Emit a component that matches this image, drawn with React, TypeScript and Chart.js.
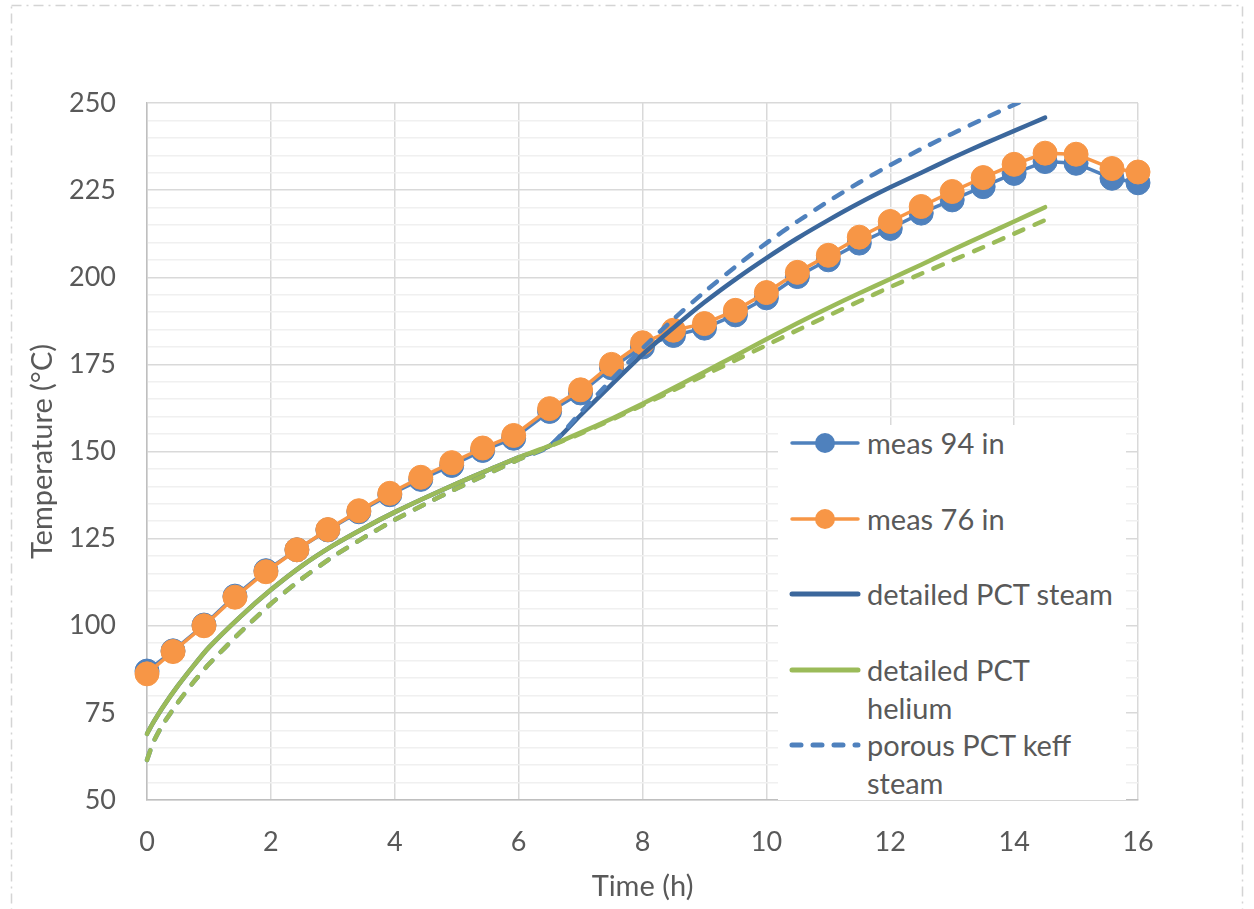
import { useEffect, useRef } from "react";
import { Chart, registerables } from "chart.js";

Chart.register(...registerables);

// Measured thermocouple times (h) and temperatures (°C)
const MEAS_TIME = [0, 0.42, 0.92, 1.42, 1.92, 2.42, 2.92, 3.42, 3.92, 4.42, 4.92, 5.42, 5.92, 6.5, 7, 7.5, 8, 8.5, 9, 9.5, 10, 10.5, 11, 11.5, 12, 12.5, 13, 13.5, 14, 14.5, 15, 15.58, 16];
const MEAS_94 = [87.0, 92.8, 100.2, 108.5, 115.8, 121.8, 127.5, 132.7, 137.6, 142.0, 146.0, 150.3, 153.8, 161.5, 166.8, 174.0, 180.0, 183.3, 185.4, 189.2, 194.1, 200.2, 205.0, 209.8, 214.0, 218.4, 222.2, 226.0, 229.8, 233.2, 232.7, 228.4, 227.1];
const MEAS_76 = [86.2, 92.6, 100.0, 108.2, 115.5, 121.8, 127.6, 133.0, 138.0, 142.6, 146.8, 151.0, 154.6, 162.3, 167.7, 175.0, 181.2, 184.8, 186.7, 190.5, 195.6, 201.4, 206.3, 211.5, 216.0, 220.3, 224.6, 228.6, 232.4, 235.6, 235.3, 231.2, 230.2];

// Model output times (h) and predicted temperatures (°C)
const MODEL_TIME = [0, 0.1, 0.25, 0.5, 0.75, 1, 1.5, 2, 2.5, 3, 3.5, 4, 4.5, 5, 5.5, 6, 6.5, 7, 7.5, 8, 8.5, 9, 9.5, 10, 10.5, 11, 11.5, 12, 12.5, 13, 13.5, 14, 14.5];
const DETAILED_STEAM = [69.0, 72.2, 76.5, 82.8, 88.5, 93.8, 102.5, 110.3, 117.2, 123.0, 128.0, 132.6, 136.8, 140.8, 144.6, 148.3, 151.6, 160.4, 169.2, 177.8, 185.5, 192.8, 199.4, 205.5, 211.2, 216.4, 221.3, 225.8, 230.0, 234.2, 238.2, 242.0, 245.8];
const DETAILED_HELIUM = [69.0, 72.2, 76.5, 82.8, 88.5, 93.8, 102.5, 110.3, 117.2, 123.0, 128.0, 132.6, 136.8, 140.8, 144.6, 148.3, 151.6, 155.4, 159.4, 163.7, 168.2, 172.8, 177.5, 182.2, 186.8, 191.2, 195.4, 199.5, 203.6, 207.8, 211.9, 216.0, 220.1];
const POROUS_STEAM = [61.5, 66.5, 71.5, 78.0, 83.8, 89.0, 98.0, 106.3, 113.5, 119.8, 125.3, 130.4, 135.0, 139.4, 143.6, 147.7, 151.5, 161.2, 170.6, 179.6, 188.0, 195.8, 203.0, 209.8, 216.0, 221.8, 227.2, 232.2, 236.8, 241.2, 245.4, 249.5, 253.4];
const POROUS_HELIUM = [61.5, 66.5, 71.5, 78.0, 83.8, 89.0, 98.0, 106.3, 113.5, 119.8, 125.3, 130.4, 135.0, 139.4, 143.6, 147.7, 151.5, 155.1, 159.1, 163.3, 167.6, 171.9, 176.2, 180.5, 184.8, 189.0, 193.1, 197.2, 201.0, 204.8, 208.6, 212.5, 216.4];

// Axis ranges and labels
const X_MIN = 0;
const X_MAX = 16;
const X_STEP = 2;
const Y_MIN = 50;
const Y_MAX = 250;
const Y_MINOR_STEP = 5;
const Y_LABEL_STEP = 25;
const X_TITLE = "Time (h)";
const Y_TITLE = "Temperature (°C)";

const FONT_FAMILY = "Lato, 'Open Sans', sans-serif";
const TEXT_COLOR = "#595959";
const TICK_SIZE = 27;
const LABEL_SIZE = 29;
const LEGEND_LINE_CHARS = 18;

type Series = {
  label: string;
  x: number[];
  y: number[];
  color: string;
  width: number;
  dash: number[];
  marker: boolean;
  inLegend: boolean;
};

const SERIES: Series[] = [
  { label: "meas 94 in", x: MEAS_TIME, y: MEAS_94, color: "#4F81BD", width: 3.5, dash: [], marker: true, inLegend: true },
  { label: "meas 76 in", x: MEAS_TIME, y: MEAS_76, color: "#F79646", width: 3.5, dash: [], marker: true, inLegend: true },
  { label: "detailed PCT steam", x: MODEL_TIME, y: DETAILED_STEAM, color: "#3B679C", width: 4.5, dash: [], marker: false, inLegend: true },
  { label: "detailed PCT helium", x: MODEL_TIME, y: DETAILED_HELIUM, color: "#9BBB59", width: 4.5, dash: [], marker: false, inLegend: true },
  { label: "porous PCT keff steam", x: MODEL_TIME, y: POROUS_STEAM, color: "#4F81BD", width: 4.5, dash: [10, 12], marker: false, inLegend: true },
  { label: "porous PCT keff helium", x: MODEL_TIME, y: POROUS_HELIUM, color: "#9BBB59", width: 4.5, dash: [10, 12], marker: false, inLegend: false },
];

// Greedy word wrap for legend entries
function wrapLabel(text: string, maxChars: number): string[] {
  const lines: string[] = [];
  let cur = "";
  for (const w of text.split(" ")) {
    const next = cur ? cur + " " + w : w;
    if (next.length > maxChars && cur) {
      lines.push(cur);
      cur = w;
    } else {
      cur = next;
    }
  }
  if (cur) lines.push(cur);
  return lines;
}

// White page plus the light dash-dot frame around the chart
const framePlugin = {
  id: "frame",
  beforeDraw(chart: Chart) {
    const ctx = chart.ctx;
    ctx.save();
    ctx.fillStyle = "#ffffff";
    ctx.fillRect(0, 0, chart.width, chart.height);
    ctx.strokeStyle = "#D4D4D4";
    ctx.lineWidth = 1.5;
    ctx.setLineDash([10, 5, 2, 5]);
    ctx.strokeRect(11.5, 5.5, 1231, 1000);
    ctx.restore();
  },
};

function LegendSample({ s }: { s: Series }) {
  return (
    <svg width={74} height={38} style={{ position: "absolute", left: 10, top: 0 }}>
      <line
        x1={4}
        y1={19}
        x2={70}
        y2={19}
        stroke={s.color}
        strokeWidth={s.marker ? 3.5 : 5}
        strokeLinecap="round"
        strokeDasharray={s.dash.length ? "9 12" : undefined}
      />
      {s.marker && <circle cx={37} cy={19} r={10} fill={s.color} />}
    </svg>
  );
}

export default function App() {
  const canvasRef = useRef<HTMLCanvasElement | null>(null);

  useEffect(() => {
    const canvas = canvasRef.current;
    if (!canvas) return;
    const n = SERIES.length;
    const chart = new Chart(canvas, {
      type: "scatter",
      data: {
        datasets: SERIES.map((s, i) => ({
          label: s.label,
          data: s.x.map((x, j) => ({ x, y: s.y[j] })),
          showLine: true,
          borderColor: s.color,
          backgroundColor: s.color,
          borderWidth: s.width,
          borderDash: s.dash,
          borderCapStyle: "round" as const,
          borderJoinStyle: "round" as const,
          pointRadius: s.marker ? 12 : 0,
          pointHoverRadius: s.marker ? 12 : 0,
          pointBackgroundColor: s.color,
          pointBorderColor: s.color,
          pointBorderWidth: 1,
          tension: s.marker ? 0 : 0.2,
          order: n - i,
          clip: s.marker ? (false as const) : { left: 6, top: 0, right: 6, bottom: 6 },
        })),
      },
      options: {
        responsive: false,
        animation: false,
        devicePixelRatio: 1,
        layout: { padding: { left: 0, right: 116, top: 103, bottom: 0 } },
        plugins: {
          legend: { display: false },
          tooltip: { enabled: false },
        },
        scales: {
          x: {
            type: "linear",
            min: X_MIN,
            max: X_MAX,
            ticks: {
              stepSize: X_STEP,
              autoSkip: false,
              maxRotation: 0,
              padding: 26,
              color: TEXT_COLOR,
              font: { family: FONT_FAMILY, size: TICK_SIZE },
            },
            grid: { color: "#D9D9D9", lineWidth: 1.5, drawTicks: false },
            border: { color: "#BFBFBF", width: 1.5 },
            title: {
              display: true,
              text: X_TITLE,
              color: TEXT_COLOR,
              font: { family: FONT_FAMILY, size: LABEL_SIZE },
              padding: { top: 0, bottom: 5 },
            },
            afterFit(scale: any) {
              scale.height = 109;
            },
          },
          y: {
            type: "linear",
            min: Y_MIN,
            max: Y_MAX,
            ticks: {
              stepSize: Y_MINOR_STEP,
              autoSkip: false,
              padding: 31,
              color: TEXT_COLOR,
              font: { family: FONT_FAMILY, size: TICK_SIZE },
              callback: (v: any) => (Math.round(Number(v)) % Y_LABEL_STEP === 0 ? String(Math.round(Number(v))) : ""),
            },
            grid: {
              color: (ctx: any) => (Math.round(ctx.tick?.value ?? 0) % Y_LABEL_STEP === 0 ? "#D9D9D9" : "#F0F0F0"),
              lineWidth: 1.5,
              drawTicks: false,
            },
            border: { color: "#BFBFBF", width: 1.5 },
            title: {
              display: true,
              text: Y_TITLE,
              color: TEXT_COLOR,
              font: { family: FONT_FAMILY, size: LABEL_SIZE },
              padding: { top: 25, bottom: 0 },
            },
            afterFit(scale: any) {
              scale.width = 147;
            },
          },
        },
      },
      plugins: [framePlugin],
    });
    return () => chart.destroy();
  }, []);

  const legendSeries = SERIES.filter((s) => s.inLegend);

  return (
    <div style={{ position: "absolute", left: 0, top: 0, width: 1254, height: 909, background: "#fff", overflow: "hidden" }}>
      <canvas ref={canvasRef} width={1254} height={909} style={{ display: "block", width: 1254, height: 909 }} />
      <div
        style={{
          position: "absolute",
          left: 778,
          top: 425,
          width: 348,
          height: 375,
          background: "#fff",
          overflow: "hidden",
          fontFamily: FONT_FAMILY,
          fontSize: LABEL_SIZE,
          color: TEXT_COLOR,
        }}
      >
        {legendSeries.map((s, i) => (
          <div key={s.label} style={{ position: "absolute", left: 0, top: -1 + i * 75.5, width: 348, height: 76 }}>
            <LegendSample s={s} />
            <div style={{ position: "absolute", left: 89, top: 0, width: 258, lineHeight: "38px", whiteSpace: "nowrap" }}>
              {wrapLabel(s.label, LEGEND_LINE_CHARS).map((line) => (
                <div key={line}>{line}</div>
              ))}
            </div>
          </div>
        ))}
      </div>
    </div>
  );
}
